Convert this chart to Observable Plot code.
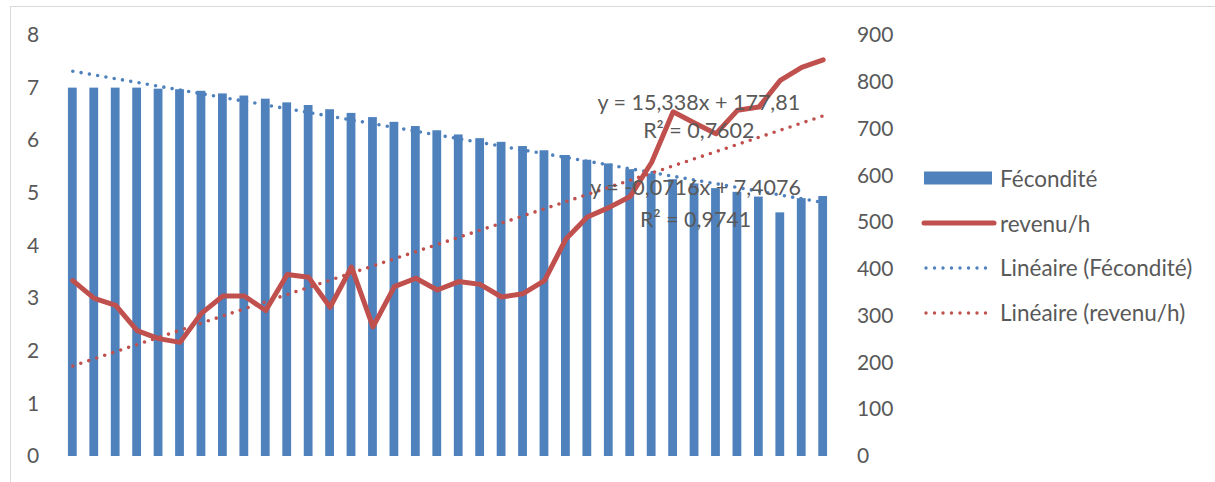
<!DOCTYPE html>
<html>
<head>
<meta charset="utf-8">
<script src="https://cdn.jsdelivr.net/npm/d3@7"></script>
<script src="https://cdn.jsdelivr.net/npm/@observablehq/plot@0.6"></script>
<style>
  body { margin: 0; background: #fff; font-family: Lato, "Open Sans", sans-serif; }
  #wrap { position: relative; width: 1215px; height: 482px; overflow: hidden; background: #fff; }
  #frame { position: absolute; left: 10px; top: 6px; width: 1240px; height: 520px; border: 1.5px solid #d9d9d9; }
  #chart { position: absolute; left: 0; top: 0; }
  #legend { position: absolute; left: 920px; top: 156px; color: #595959; font-size: 22.5px; }
  .item { height: 44.8px; display: flex; align-items: center; }
  .item svg { width: 78px; height: 20px; flex: none; }
  .item span { margin-left: 2px; white-space: nowrap; }
</style>
</head>
<body>
<div id="wrap">
  <div id="frame"></div>
  <div id="chart"></div>
  <div id="legend"></div>
</div>
<script>
// ---- data ----
const periode = d3.range(1, 37); // 36 periods (no labels on the x axis)
const fecondite = [
  7.00, 7.00, 7.00, 7.00, 6.98, 6.97, 6.94, 6.89, 6.85, 6.79,
  6.72, 6.67, 6.59, 6.52, 6.44, 6.35, 6.27, 6.19, 6.11, 6.04,
  5.97, 5.89, 5.81, 5.72, 5.63, 5.56, 5.45, 5.37, 5.26, 5.18,
  5.09, 5.02, 4.93, 4.63, 4.90, 4.94
];
const revenu = [
  376, 338, 323, 269, 252, 244, 306, 343, 343, 312,
  389, 383, 319, 405, 277, 363, 381, 356, 374, 368,
  341, 348, 376, 465, 512, 532, 556, 629, 737, 713,
  690, 740, 747, 804, 832, 848
];
const leftTicks = [0, 1, 2, 3, 4, 5, 6, 7, 8];
const rightTicks = [0, 100, 200, 300, 400, 500, 600, 700, 800, 900];
const seriesNames = ["Fécondité", "revenu/h", "Linéaire (Fécondité)", "Linéaire (revenu/h)"];
const eqRevenu = ["y = 15,338x + 177,81", "R² = 0,7602"];
const eqFecondite = ["y = -0,0716x + 7,4076", "R² = 0,9741"];

// ---- chart ----
const blue = "#4f81bd", red = "#c0504d", grey = "#595959";
const k = 8 / 900; // right axis (0–900) mapped onto left axis (0–8)
const rows = periode.map((p, i) => ({p, f: fecondite[i], r: revenu[i] * k}));

const chart = Plot.plot({
  width: 1215,
  height: 482,
  marginLeft: 61.6,
  marginRight: 381.6,
  marginTop: 35,
  marginBottom: 26,
  x: {domain: [0.5, 36.5], axis: null},
  y: {domain: [0, 8], axis: null},
  style: {fontFamily: "Lato, 'Open Sans', sans-serif", fontSize: "21px", color: grey, background: "transparent", overflow: "visible"},
  marks: [
    Plot.axisY(leftTicks, {anchor: "left", tickSize: 0, tickPadding: 23, fill: grey, fontSize: 21,
      tickFormat: d => String(d)}),
    Plot.axisY(rightTicks.map(v => v * k), {anchor: "right", tickSize: 0, tickPadding: 23, fill: grey, fontSize: 21,
      tickFormat: d => String(Math.round(d / k))}),
    Plot.rectY(rows, {x1: d => d.p - 0.205, x2: d => d.p + 0.205, y: "f", fill: blue}),
    Plot.linearRegressionY(rows, {x: "p", y: "f", stroke: blue, strokeWidth: 3.6, strokeDasharray: "0 8.4", strokeLinecap: "round", ci: 0}),
    Plot.linearRegressionY(rows, {x: "p", y: "r", stroke: red, strokeWidth: 3.6, strokeDasharray: "0 8.4", strokeLinecap: "round", ci: 0}),
    Plot.line(rows, {x: "p", y: "r", stroke: red, strokeWidth: 5, strokeLinejoin: "round", strokeLinecap: "round"}),
    Plot.text([eqRevenu[0]], {x: 30.2, y: 6.72, fill: grey, fontSize: 21.5}),
    Plot.text([eqRevenu[1]], {x: 30.2, y: 6.18, fill: grey, fontSize: 21.5}),
    Plot.text([eqFecondite[0]], {x: 30.05, y: 5.10, fill: grey, fontSize: 21.5}),
    Plot.text([eqFecondite[1]], {x: 30.05, y: 4.50, fill: grey, fontSize: 21.5})
  ]
});
document.getElementById("chart").appendChild(chart);

// ---- legend ----
const swatches = [
  `<rect x="4" y="3.5" width="68" height="13" fill="${blue}"/>`,
  `<line x1="4" y1="10" x2="74" y2="10" stroke="${red}" stroke-width="5" stroke-linecap="round"/>`,
  `<line x1="6" y1="10" x2="66" y2="10" stroke="${blue}" stroke-width="3.4" stroke-dasharray="0 8.5" stroke-linecap="round"/>`,
  `<line x1="6" y1="10" x2="66" y2="10" stroke="${red}" stroke-width="3.4" stroke-dasharray="0 8.5" stroke-linecap="round"/>`
];
const legend = document.getElementById("legend");
seriesNames.forEach((name, i) => {
  const div = document.createElement("div");
  div.className = "item";
  div.innerHTML = `<svg viewBox="0 0 78 20">${swatches[i]}</svg><span>${name}</span>`;
  legend.appendChild(div);
});
</script>
</body>
</html>
